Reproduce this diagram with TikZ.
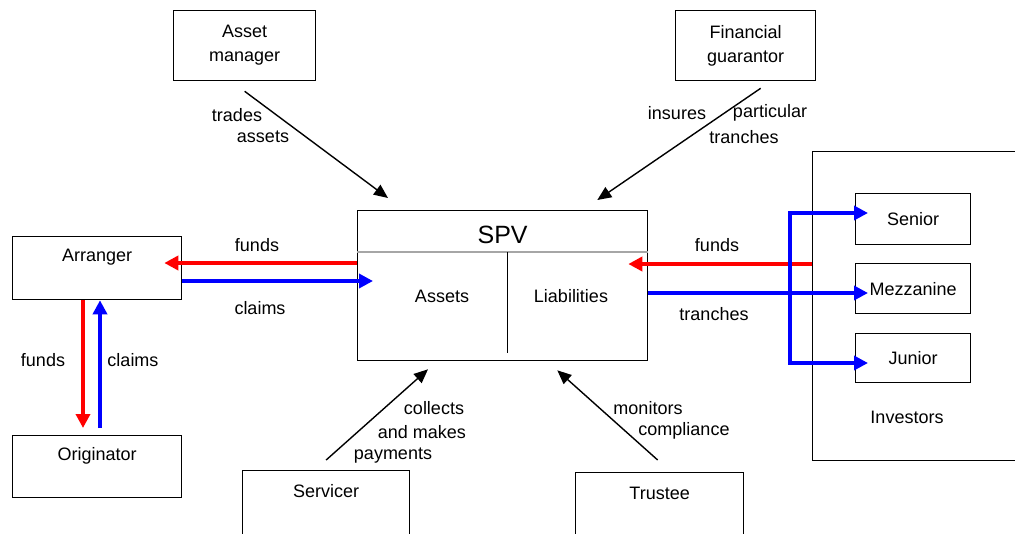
\documentclass[tikz,border=0pt]{standalone}
\usepackage{fontspec}
\setmainfont{Liberation Sans}
\usetikzlibrary{arrows.meta}
\tikzset{
  box/.style={draw, line width=1.3pt, inner sep=0pt, align=center, anchor=north west},
  tag/.style={anchor=center, yshift=-21pt},
  flow/.style={line width=1.4pt, -{Triangle[length=14pt,width=12pt]}},
  money/.style={red, line width=4.5pt, -{Triangle[length=14pt,width=14pt]}},
  paper/.style={blue, line width=4.5pt, -{Triangle[length=14pt,width=14pt]}}
}
\begin{document}
\begin{tikzpicture}[x=1pt, y=-1pt, font=\fontsize{18}{24}\selectfont]
\useasboundingbox (0,0) rectangle (1015,533);
% parties
\node[box, minimum width=142pt, minimum height=70pt] (manager) at (173,10) {Asset\\manager};
\node[box, minimum width=140pt, minimum height=70pt] (guarantor) at (675,10) {Financial\\guarantor};
\node[box, minimum width=169pt, minimum height=63pt, label={[tag]north:Arranger}] (arranger) at (12,236) {};
\node[box, minimum width=169pt, minimum height=62pt, label={[tag]north:Originator}] (originator) at (12,435) {};
\node[box, minimum width=167pt, minimum height=75pt, label={[tag]north:Servicer}] (servicer) at (242,470) {};
\node[box, minimum width=168pt, minimum height=75pt, label={[tag]north:Trustee}] (trustee) at (575,472) {};
\node[box, minimum width=290pt, minimum height=150pt,
  label={[anchor=center, yshift=-25pt, font=\fontsize{25}{30}\selectfont]north:SPV}] (spv) at (357,210) {};
\draw[gray!70, line width=1.5pt] ([yshift=-42pt]spv.north west) -- ([yshift=-42pt]spv.north east);
\draw[line width=1.3pt] ([xshift=5pt,yshift=-42pt]spv.north) -- ([xshift=5pt,yshift=8pt]spv.south);
\node (assets) at (442,296) {Assets};
\node (liabilities) at (571,296) {Liabilities};
% investors
\node[box, minimum width=215pt, minimum height=309pt] (investors) at (812,151) {};
\node (invname) at (907,417) {Investors};
\node[box, minimum width=115pt, minimum height=51pt] (senior) at (855,193) {Senior};
\node[box, minimum width=115pt, minimum height=50pt] (mezz) at (855,263) {Mezzanine};
\node[box, minimum width=115pt, minimum height=49pt] (junior) at (855,333) {Junior};
% money and paper
\draw[money, shorten >=-18pt] (spv.west |- 0,263) -- (arranger.east |- 0,263);
\draw[paper, shorten >=-16pt] (arranger.east |- 0,281) -- (spv.west |- 0,281);
\draw[money, shorten >=7pt] (arranger.south -| 83,0) -- (originator.north -| 83,0);
\draw[paper, shorten <=7pt] (originator.north -| 100,0) -- (arranger.south -| 100,0);
\draw[money, shorten >=-20pt] (investors.west |- 0,264) -- (spv.east |- 0,264);
\draw[paper, shorten >=-13pt] (spv.east |- 0,293) -- (mezz.west |- 0,293);
\coordinate (split) at (790,293);
\draw[paper, shorten >=-13pt] (split) |- (senior.west |- 0,213);
\draw[paper, shorten >=-13pt] (split) |- (junior.west |- 0,363);
% services
\draw[flow] ([yshift=-10pt]manager.south) -- ([xshift=31pt,yshift=12pt]spv.north west);
\draw[flow] ([xshift=15pt,yshift=-7pt]guarantor.south) -- ([xshift=-51pt,yshift=10pt]spv.north east);
\draw[flow] ([yshift=10pt]servicer.north) -- ([xshift=71pt,yshift=-8pt]spv.south west);
\draw[flow] ([xshift=-2pt,yshift=12pt]trustee.north) -- ([xshift=-91pt,yshift=-9pt]spv.south east);
% labels
\foreach \x/\y/\txt [count=\i] in {237/115/trades, 263/137/assets, 677/113/insures,
  770/113/particular, 744/137/tranches, 434/408/collects, 422/432/and makes,
  393/456/payments, 648/408/monitors, 684/431/compliance, 257/245/funds,
  260/308/claims, 43/360/funds, 133/360/claims, 717/245/funds, 714/314/tranches}
  \node (note\i) at (\x,\y) {\txt};
\end{tikzpicture}
\end{document}
